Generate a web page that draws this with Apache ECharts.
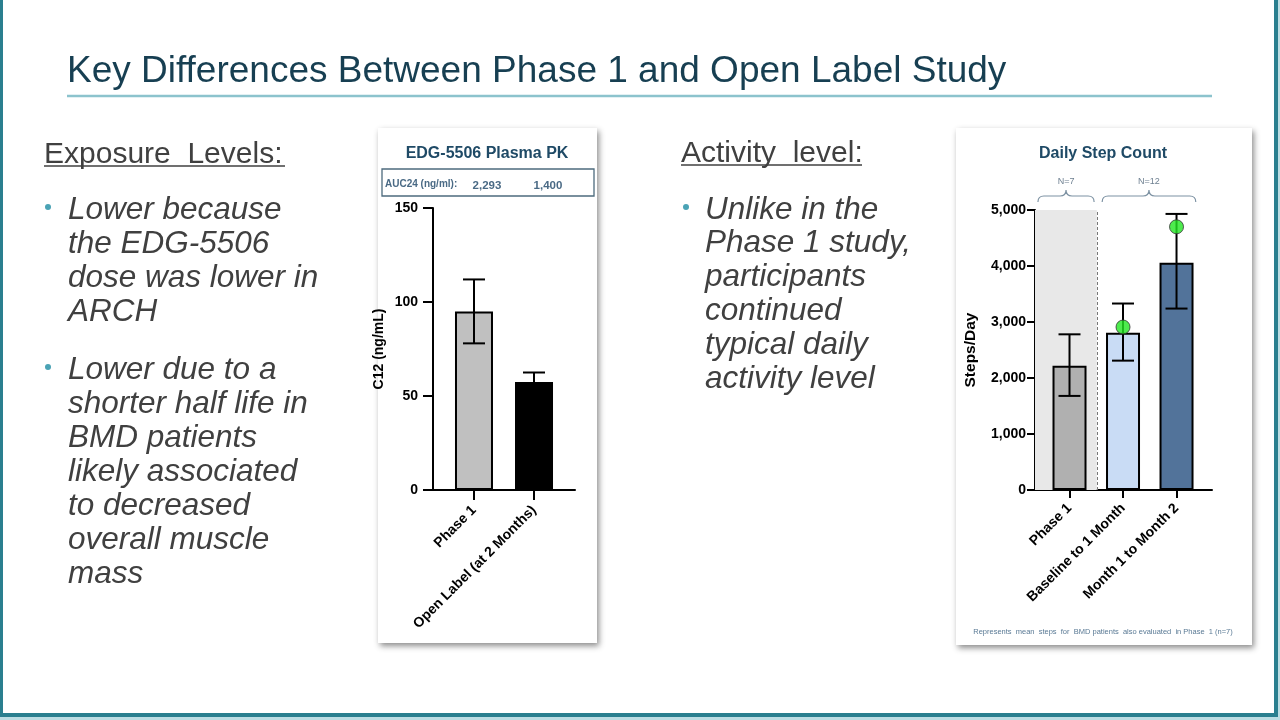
<!DOCTYPE html>
<html>
<head>
<meta charset="utf-8">
<script src="https://cdn.jsdelivr.net/npm/echarts@6/dist/echarts.min.js"></script>
<style>
html,body{margin:0;padding:0;background:#fff;}
#c{width:1280px;height:720px;}
</style>
</head>
<body>
<div id="c"></div>
<script>
// ---------- data ----------
const pkCategories = ['Phase 1', 'Open Label (at 2 Months)'];
const pkMean = [95, 57.5];
const pkLow = [78, 53];
const pkHigh = [112, 62.5];
const pkAuc = ['2,293', '1,400'];
const pkTicks = [0, 50, 100, 150];

const stepCategories = ['Phase 1', 'Baseline to 1 Month', 'Month 1 to Month 2'];
const stepMean = [2220, 2810, 4060];
const stepLow = [1680, 2310, 3240];
const stepHigh = [2780, 3330, 4930];
const stepPhase1Subset = [null, 2910, 4700];
const stepTicks = [0, 1000, 2000, 3000, 4000, 5000];
const stepGroups = [
  { label: 'N=7', from: -0.59, to: 0.46 },
  { label: 'N=12', from: 0.61, to: 2.36 }
];

// ---------- styles ----------
const pkColors = ['#c0c0c0', '#000000'];
const stepColors = ['#b0b0b0', '#c9dcf5', '#52739a'];
const FONT = '"Liberation Sans", Arial, sans-serif';
const bodyColor = '#404040';

const chart = echarts.init(document.getElementById('c'));

function fmt(v) { return v.toString().replace(/\B(?=(\d{3})+(?!\d))/g, ','); }

function errRender(params, api) {
  const x = api.value(0), lo = api.value(1), hi = api.value(2);
  const p1 = api.coord([x, lo]), p2 = api.coord([x, hi]);
  const w = 11;
  const st = { stroke: '#000', lineWidth: 2 };
  return {
    type: 'group',
    children: [
      { type: 'line', shape: { x1: p1[0], y1: p1[1], x2: p2[0], y2: p2[1] }, style: st },
      { type: 'line', shape: { x1: p2[0] - w, y1: p2[1], x2: p2[0] + w, y2: p2[1] }, style: st },
      { type: 'line', shape: { x1: p1[0] - w, y1: p1[1], x2: p1[0] + w, y2: p1[1] }, style: st }
    ]
  };
}

const braceLevel = 5250;
function braceRender(params, api) {
  const g = stepGroups[params.dataIndex];
  const a = api.coord([g.from, braceLevel]);
  const b = api.coord([g.to, braceLevel]);
  const y = a[1], x0 = a[0], x1 = b[0], xm = (x0 + x1) / 2;
  const r = 6, d = 6;
  const path = `M${x0},${y + d} Q${x0},${y} ${x0 + r},${y} L${xm - r},${y} Q${xm},${y} ${xm},${y - d} Q${xm},${y} ${xm + r},${y} L${x1 - r},${y} Q${x1},${y} ${x1},${y + d}`;
  return {
    type: 'group',
    children: [
      { type: 'path', shape: { pathData: path }, style: { stroke: '#7d92a3', lineWidth: 1.2, fill: null } },
      { type: 'text', style: { text: g.label, x: xm, y: y - 10, align: 'center', verticalAlign: 'bottom', font: '9px ' + FONT, fill: '#6d7f90' } }
    ]
  };
}

// ---------- slide text ----------
const graphics = [];
// text placed by baseline
function txt(text, x, baseline, fs, opts) {
  opts = opts || {};
  graphics.push({
    type: 'text', z: 100,
    style: {
      text: text, x: x, y: baseline - 0.23 * fs, verticalAlign: 'middle',
      align: opts.align || 'left',
      font: (opts.style ? opts.style + ' ' : '') + fs + 'px ' + FONT,
      fill: opts.color || bodyColor
    }
  });
}
// frame
graphics.push({ type: 'rect', shape: { x: 0, y: 0, width: 3, height: 717 }, style: { fill: '#2a7f8f' }, z: 100 });
graphics.push({ type: 'rect', shape: { x: 0, y: 713, width: 1278, height: 4 }, style: { fill: '#2a7f8f' }, z: 100 });
graphics.push({ type: 'rect', shape: { x: 1274, y: 0, width: 4, height: 717 }, style: { fill: '#2a7f8f' }, z: 100 });
graphics.push({ type: 'rect', shape: { x: 0, y: 717, width: 1280, height: 3 }, style: { fill: '#bcdde3' }, z: 100 });
graphics.push({ type: 'rect', shape: { x: 1278, y: 0, width: 2, height: 720 }, style: { fill: '#bcdde3' }, z: 100 });
// title
txt('Key Differences Between Phase 1 and Open Label Study', 67, 80, 37, { color: '#173f52' });
graphics.push({ type: 'line', shape: { x1: 67, y1: 96, x2: 1212, y2: 96 }, style: { stroke: '#8cc3cd', lineWidth: 2.5 }, z: 100 });

function heading(t, x, y, w) {
  txt(t, x, y, 30);
  graphics.push({ type: 'line', shape: { x1: x, y1: y + 4, x2: x + w, y2: y + 4 }, style: { stroke: bodyColor, lineWidth: 1.5 }, z: 100 });
}
function bullet(lines, dotX, textX, y0, lh) {
  graphics.push({ type: 'circle', shape: { cx: dotX, cy: y0 - 10, r: 3 }, style: { fill: '#4aa3b5' }, z: 100 });
  lines.forEach((l, i) => txt(l, textX, y0 + i * lh, 31.5, { style: 'italic' }));
}
heading('Exposure  Levels:', 44, 162, 241);
bullet(['Lower because', 'the EDG-5506', 'dose was lower in', 'ARCH'], 48, 68, 217, 34.3);
bullet(['Lower due to a', 'shorter half life in', 'BMD patients', 'likely associated', 'to decreased', 'overall muscle', 'mass'], 48, 68, 377, 34);
heading('Activity  level:', 681, 161, 181);
bullet(['Unlike in the', 'Phase 1 study,', 'participants', 'continued', 'typical daily', 'activity level'], 686, 705, 217, 33.9);

// cards
graphics.push({ type: 'rect', shape: { x: 378, y: 128, width: 219, height: 515 }, style: { fill: '#fff', shadowBlur: 6, shadowOffsetX: 2, shadowOffsetY: 3, shadowColor: 'rgba(0,0,0,0.45)' }, z: -10 });
graphics.push({ type: 'rect', shape: { x: 956, y: 128, width: 296, height: 517 }, style: { fill: '#fff', shadowBlur: 6, shadowOffsetX: 2, shadowOffsetY: 3, shadowColor: 'rgba(0,0,0,0.45)' }, z: -10 });
// chart titles
txt('EDG-5506 Plasma PK', 487, 157, 16, { style: 'bold', align: 'center', color: '#1f4a66' });
txt('Daily Step Count', 1103, 157, 16, { style: 'bold', align: 'center', color: '#1f4a66' });
// AUC box
graphics.push({ type: 'rect', shape: { x: 382, y: 169, width: 212, height: 27 }, style: { fill: 'none', stroke: '#4d6b7d', lineWidth: 1.3 }, z: 100 });
txt('AUC24 (ng/ml):', 385, 187, 10, { style: 'bold', color: '#4a6a85' });
txt(pkAuc[0], 487, 188, 11.5, { style: 'bold', align: 'center', color: '#4a6a85' });
txt(pkAuc[1], 548, 188, 11.5, { style: 'bold', align: 'center', color: '#4a6a85' });
// footnote
txt('Represents  mean  steps  for  BMD patients  also evaluated  in Phase  1 (n=7)', 1103, 634, 7.5, { align: 'center', color: '#5a7a95' });

const tickStyle = { color: '#000', width: 2 };
const lblStyle = { fontFamily: FONT, fontWeight: 'bold', color: '#000' };

const option = {
  animation: false,
  backgroundColor: '#fff',
  graphic: { elements: graphics },
  grid: [
    { left: 433, right: 705, top: 208, bottom: 230 },
    { left: 1035, right: 68, top: 210, bottom: 230 }
  ],
  xAxis: [
    {
      gridIndex: 0, type: 'value', min: -0.683, max: 1.683, splitLine: { show: false },
      axisLine: { show: true, onZero: false, lineStyle: tickStyle },
      axisTick: { show: true, length: 10, lineStyle: tickStyle, customValues: [0, 1] },
      axisLabel: Object.assign({ customValues: [0, 1], formatter: v => pkCategories[Math.round(v)], rotate: 45, fontSize: 14, margin: 18 }, lblStyle)
    },
    {
      gridIndex: 1, type: 'value', min: -0.645, max: 2.663, splitLine: { show: false },
      axisLine: { show: true, onZero: false, lineStyle: tickStyle },
      axisTick: { show: true, length: 8, lineStyle: tickStyle, customValues: [0, 1, 2] },
      axisLabel: Object.assign({ customValues: [0, 1, 2], formatter: v => stepCategories[Math.round(v)], rotate: 45, fontSize: 14, margin: 16 }, lblStyle)
    }
  ],
  yAxis: [
    {
      gridIndex: 0, type: 'value', min: 0, max: 150, interval: 50, splitLine: { show: false },
      axisLine: { show: true, onZero: false, lineStyle: tickStyle },
      axisTick: { show: true, length: 10, lineStyle: tickStyle },
      name: 'C12 (ng/mL)', nameLocation: 'middle', nameRotate: 90, nameGap: 47,
      nameTextStyle: Object.assign({ fontSize: 14 }, lblStyle),
      axisLabel: Object.assign({ fontSize: 14, margin: 15 }, lblStyle)
    },
    {
      gridIndex: 1, type: 'value', min: 0, max: 5000, interval: 1000, splitLine: { show: false },
      axisLine: { show: true, onZero: false, lineStyle: tickStyle },
      axisTick: { show: true, length: 8, lineStyle: tickStyle },
      name: 'Steps/Day', nameLocation: 'middle', nameRotate: 90, nameGap: 56,
      nameTextStyle: Object.assign({ fontSize: 15.5 }, lblStyle),
      axisLabel: Object.assign({ fontSize: 14, margin: 9, formatter: fmt }, lblStyle)
    }
  ],
  series: [
    {
      type: 'bar', xAxisIndex: 0, yAxisIndex: 0, barWidth: 38, z: 3,
      data: pkMean.map((v, i) => ({ value: [i, v], itemStyle: { color: pkColors[i], borderColor: '#000', borderWidth: 2 } }))
    },
    {
      type: 'custom', xAxisIndex: 0, yAxisIndex: 0, z: 5, renderItem: errRender,
      encode: { x: 0, y: [1, 2] },
      data: pkMean.map((v, i) => [i, pkLow[i], pkHigh[i]])
    },
    {
      type: 'bar', xAxisIndex: 1, yAxisIndex: 1, barWidth: 34, z: 3,
      data: stepMean.map((v, i) => ({ value: [i, v], itemStyle: { color: stepColors[i], borderColor: '#000', borderWidth: 2 } })),
      markArea: {
        silent: true,
        itemStyle: { color: '#e8e8e8' },
        data: [[{ coord: [-0.645, 0] }, { coord: [0.51, 5000] }]]
      },
      markLine: {
        silent: true, symbol: 'none', label: { show: false },
        lineStyle: { color: '#777', type: [3, 2], width: 1 },
        data: [[{ coord: [0.51, 0] }, { coord: [0.51, 5000] }]]
      }
    },
    {
      type: 'custom', xAxisIndex: 1, yAxisIndex: 1, z: 5, renderItem: errRender,
      encode: { x: 0, y: [1, 2] },
      data: stepMean.map((v, i) => [i, stepLow[i], stepHigh[i]])
    },
    {
      type: 'scatter', xAxisIndex: 1, yAxisIndex: 1, z: 6, symbolSize: 14,
      itemStyle: { color: '#22e622', borderColor: '#333', borderWidth: 1 },
      data: stepPhase1Subset.map((v, i) => v == null ? null : [i, v]).filter(d => d)
    },
    {
      type: 'custom', xAxisIndex: 1, yAxisIndex: 1, z: 6, clip: false, renderItem: braceRender,
      encode: { x: [0, 1] },
      data: stepGroups.map(g => [g.from, g.to])
    }
  ]
};
chart.setOption(option);
</script>
</body>
</html>
